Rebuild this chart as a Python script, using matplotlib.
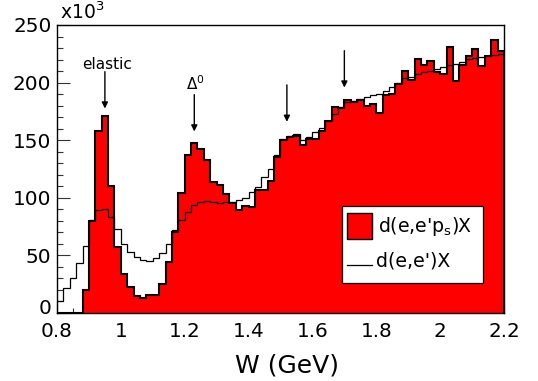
import numpy as np
import matplotlib
matplotlib.use("Agg")
import matplotlib.pyplot as plt
from matplotlib.ticker import MultipleLocator, FuncFormatter
from matplotlib.patches import Rectangle
from matplotlib.lines import Line2D

plt.rcParams['font.family'] = ['DejaVu Sans']
plt.rcParams['mathtext.fontset'] = 'dejavusans'

# Binning in W (GeV): 70 bins of 20 MeV
w_min, w_max, n_bins = 0.8, 2.2, 70
edges = np.linspace(w_min, w_max, n_bins + 1)

# d(e,e'p_s)X yield per bin, in units of 10^3
tagged = [
    0, 0, 0, 0, 20, 80, 158, 171, 110, 57,
    34, 23, 14.5, 13, 15.5, 16, 25, 44, 70, 104,
    137, 148, 142, 133, 114, 111, 103, 95.5, 89, 93,
    92, 106.5, 106.5, 114.5, 135, 150, 153, 154, 146, 151,
    151, 158, 167, 178.5, 178, 185, 183, 185, 180, 181.5,
    174, 189.5, 190.5, 199, 210, 202, 220.5, 215.5, 219, 209,
    207.5, 230.5, 201, 215.5, 223, 229, 214, 223, 237, 227.5,
]

# d(e,e')X yield per bin (normalised), in units of 10^3
inclusive = [
    10, 21.5, 30.5, 43, 58.5, 80.5, 89, 90, 83.5, 72.5,
    60, 53, 48.5, 46, 45.3, 47.6, 51.7, 59.7, 72, 80.5,
    87.7, 93.5, 96.4, 97, 96.4, 95.5, 96, 96.5, 97.8, 100,
    105, 109.4, 118, 125.3, 136.8, 151.2, 154, 155, 149.8, 152.7,
    157, 160.7, 167, 172.9, 178.6, 183, 184.4, 185.9, 187.3, 189.6,
    190.5, 193, 196, 200, 204, 205, 207.5, 209, 210.4, 211.8,
    213.5, 215.3, 216, 217.6, 220.5, 221, 222, 223.4, 224, 224.8,
]

# Resonance markers: W position, arrow tail and head heights (10^3)
arrow_w = [0.95, 1.23, 1.52, 1.70]
arrow_tail = [209.5, 189.6, 198.0, 227.7]
arrow_head = [177.5, 157.6, 166.0, 195.7]

x_ticks = [0.8, 1.0, 1.2, 1.4, 1.6, 1.8, 2.0, 2.2]
y_ticks = [0, 50, 100, 150, 200, 250]

fig = plt.figure(figsize=(5.38, 3.81), dpi=100)
ax = fig.add_axes([57 / 538, 1 - 313 / 381, 447 / 538, 288 / 381])

# filled histogram with thick outline
ax.stairs(tagged, edges, fill=True, color='#ff0000', lw=0, zorder=2)
ax.stairs(tagged, edges, color='black', lw=1.5, zorder=3)
# inclusive spectrum as a thin line
ax.stairs(inclusive, edges, color='black', lw=0.9, baseline=None, zorder=4)

for w, t, h in zip(arrow_w, arrow_tail, arrow_head):
    ax.annotate('', xy=(w, h), xytext=(w, t),
                arrowprops=dict(arrowstyle='-|>', color='black', lw=1.0,
                                mutation_scale=9, shrinkA=0, shrinkB=0),
                zorder=5)

ax.text(0.958, 212, 'elastic', ha='center', va='baseline', fontsize=11)
ax.text(1.232, 194, r'$\Delta^\mathregular{0}$', ha='center', va='baseline', fontsize=11)

ax.set_xlim(w_min, w_max)
ax.set_ylim(0, 250)
ax.set_xticks(x_ticks)
ax.set_yticks(y_ticks)
ax.xaxis.set_minor_locator(MultipleLocator(0.05))
ax.yaxis.set_minor_locator(MultipleLocator(10))
ax.xaxis.set_major_formatter(FuncFormatter(lambda v, p: f'{v:g}'))
# the label at the origin is placed separately, lifted clear of the x labels
ax.yaxis.set_major_formatter(FuncFormatter(lambda v, p: '' if v == 0 else f'{v:g}'))
ax.tick_params(which='both', direction='in', top=False, right=False,
               labelsize=14.4, width=0.8, color='#333333')
ax.tick_params(axis='x', which='major', length=7.5, pad=6.5)
ax.tick_params(axis='x', which='minor', length=3.5)
ax.tick_params(axis='y', which='major', length=9.5, pad=4)
ax.tick_params(axis='y', which='minor', length=4.5)
for s in ax.spines.values():
    s.set_linewidth(1.0)
    s.set_zorder(6)

fig.text(51 / 538, 1 - 308 / 381, '0', ha='right', va='center', fontsize=14.4)
fig.text(287 / 538, 1 - 365 / 381, 'W (GeV)', ha='center', va='center', fontsize=18)
fig.text(60 / 538, 1 - 19 / 381, r'x10$^\mathregular{3}$', ha='left', va='baseline', fontsize=13.5)

# legend box drawn in axes coordinates
box = Rectangle((0.638, 0.105), 0.316, 0.2665, transform=ax.transAxes,
                facecolor='white', edgecolor='black', lw=0.9, zorder=7)
ax.add_patch(box)
ax.add_patch(Rectangle((0.6494, 0.256), 0.056, 0.092, transform=ax.transAxes,
                       facecolor='#ff0000', edgecolor='black', lw=1.0, zorder=8))
ax.add_line(Line2D([0.6494, 0.7054], [0.1667, 0.1667], transform=ax.transAxes,
                   color='black', lw=0.9, zorder=8))
ax.text(0.719, 0.300, r"d(e,e'p$_\mathregular{s}$)X", transform=ax.transAxes,
        ha='left', va='center', fontsize=13.6, zorder=9)
ax.text(0.713, 0.182, "d(e,e')X", transform=ax.transAxes,
        ha='left', va='center', fontsize=13.6, zorder=9)

fig.savefig('out.png', dpi=100)
